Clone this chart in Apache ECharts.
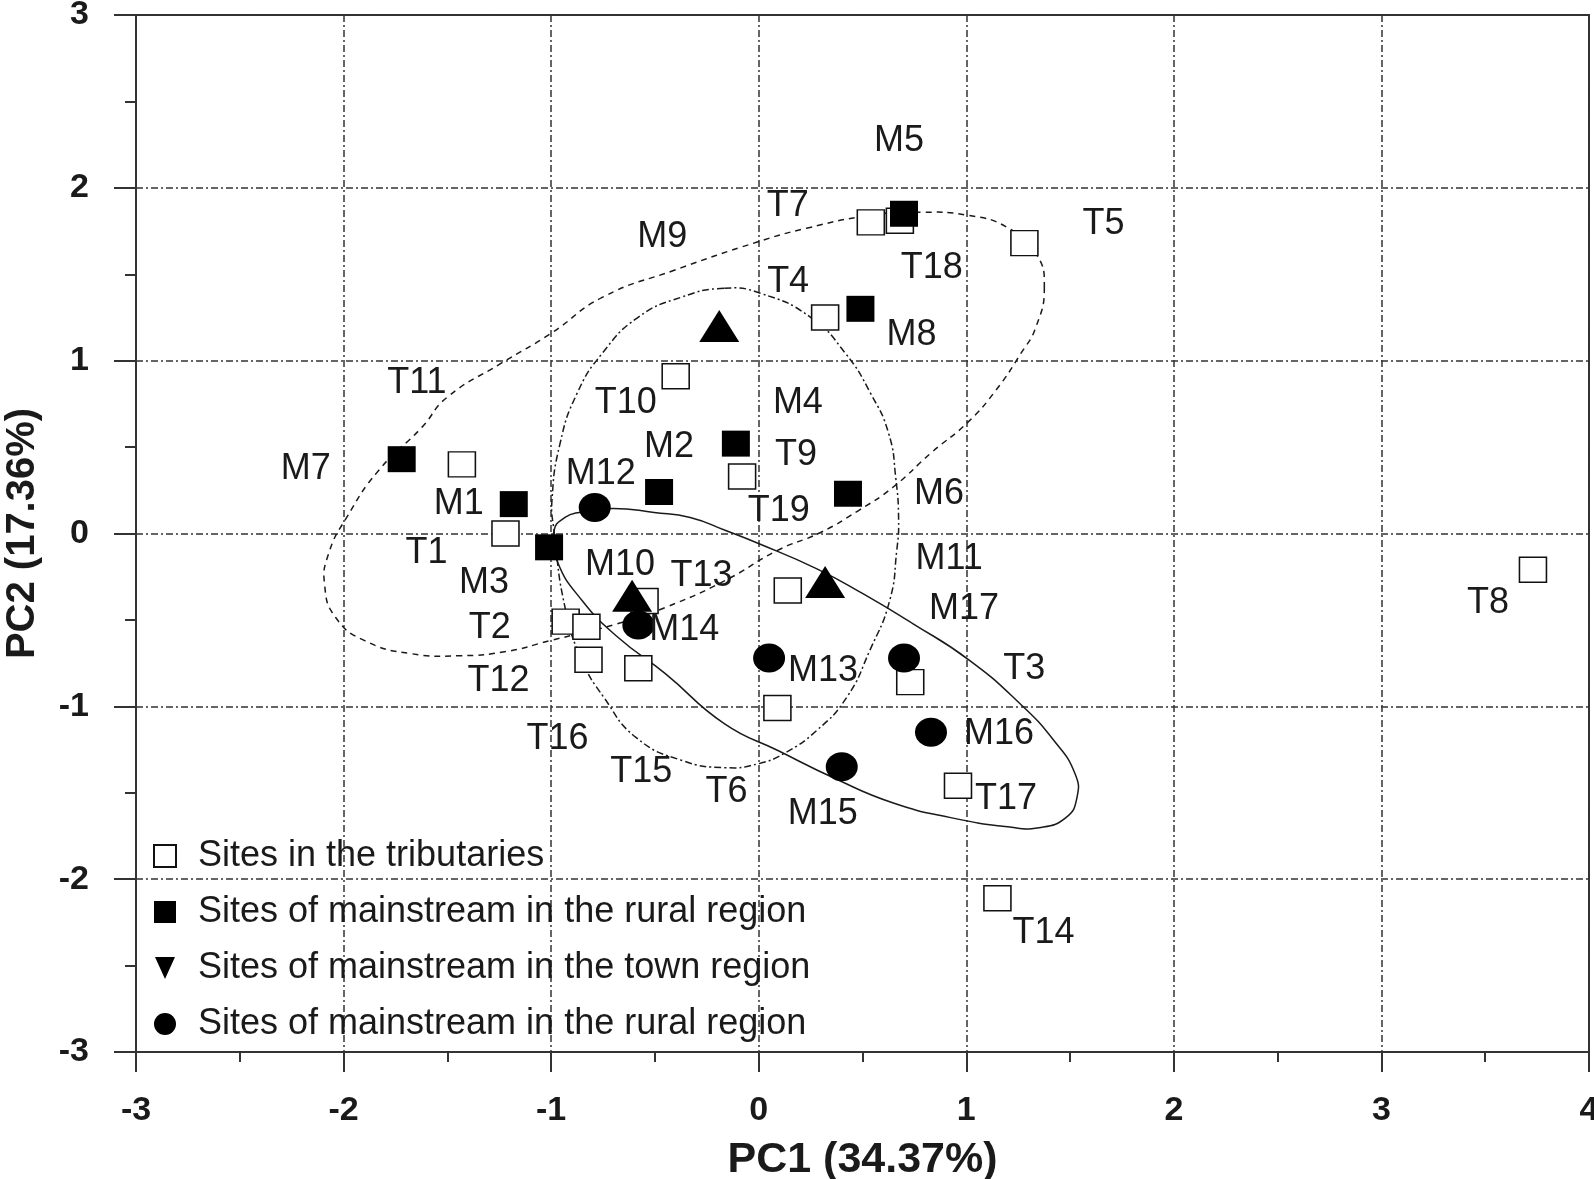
<!DOCTYPE html>
<html>
<head>
<meta charset="utf-8">
<title>PCA of sampling sites</title>
<script src="https://cdn.jsdelivr.net/npm/echarts/dist/echarts.min.js"></script>
<style>
  html, body { margin: 0; padding: 0; background: #fff; }
  #chart { width: 1594px; height: 1179px; }
</style>
</head>
<body>
<div id="chart"></div>
<script>
// axis ticks
var pc1Ticks = [-3, -2, -1, 0, 1, 2, 3, 4];
var pc2Ticks = [-3, -2, -1, 0, 1, 2, 3];

// sites in the tributaries (open squares)
var tribNames = ['T1','T2','T3','T4','T5','T6','T7','T8','T9','T10','T11','T12','T13','T14','T15','T16','T17','T18','T19'];
var tribPC1 = [-1.22, -0.93, 0.73, 0.32, 1.28, 0.09, 0.54, 3.73, -0.08, -0.40, -1.43, -0.83, -0.55, 1.15, -0.58, -0.82, 0.96, 0.68, 0.14];
var tribPC2 = [0.00, -0.51, -0.86, 1.25, 1.68, -1.01, 1.80, -0.21, 0.33, 0.91, 0.40, -0.54, -0.39, -2.11, -0.78, -0.73, -1.46, 1.81, -0.33];

// mainstream, rural region (filled squares)
var ruralNames = ['M1','M2','M3','M4','M5','M6','M7','M8'];
var ruralPC1 = [-1.18, -0.48, -1.01, -0.11, 0.70, 0.43, -1.72, 0.49];
var ruralPC2 = [0.17, 0.24, -0.08, 0.52, 1.85, 0.23, 0.43, 1.30];

// mainstream, town region (triangles)
var townNames = ['M9','M10','M11'];
var townPC1 = [-0.19, -0.61, 0.32];
var townPC2 = [1.20, -0.36, -0.28];

// mainstream, rural region (circles)
var circNames = ['M12','M13','M14','M15','M16','M17'];
var circPC1 = [-0.79, 0.05, -0.58, 0.40, 0.83, 0.70];
var circPC2 = [0.15, -0.72, -0.53, -1.35, -1.15, -0.72];

// group outlines, points
var ellRuralPC1 = [1.376, 1.335, 1.263, 1.142, 1.007, 0.833, 0.645, 0.481, 0.298, 0.090, -0.161, -0.450, -0.677, -1.005, -1.218, -1.435, -1.676, -1.898, -2.038, -2.091, -2.072, -1.985, -1.831, -1.623, -1.502, -1.242, -1.000, -0.754, -0.407, -0.011, 0.230, 0.539, 0.780, 1.007, 1.196, 1.335];
var ellRuralPC2 = [1.426, 1.193, 1.042, 0.828, 0.643, 0.469, 0.266, 0.133, 0.006, -0.098, -0.272, -0.428, -0.521, -0.620, -0.683, -0.707, -0.695, -0.620, -0.486, -0.301, -0.116, 0.093, 0.365, 0.614, 0.787, 0.984, 1.158, 1.366, 1.523, 1.685, 1.766, 1.841, 1.859, 1.841, 1.772, 1.621];

var ellTownPC1 = [-0.166, 0.008, 0.250, 0.418, 0.539, 0.626, 0.660, 0.674, 0.665, 0.631, 0.535, 0.423, 0.278, 0.129, -0.001, -0.161, -0.368, -0.590, -0.745, -0.851, -0.933, -0.986, -0.996, -0.957, -0.875, -0.754, -0.581, -0.373];
var ellTownPC2 = [1.419, 1.390, 1.251, 1.042, 0.811, 0.579, 0.324, 0.075, -0.098, -0.388, -0.677, -0.950, -1.141, -1.268, -1.332, -1.355, -1.314, -1.181, -0.950, -0.735, -0.428, 0.017, 0.191, 0.521, 0.811, 1.042, 1.251, 1.367];

var ellCircPC1 = [-0.986, -0.933, -0.865, -0.701, -0.504, -0.330, -0.159, -0.001, 0.278, 0.500, 0.742, 1.017, 1.258, 1.422, 1.524, 1.533, 1.480, 1.350, 1.200, 0.925, 0.645, 0.370, 0.095, -0.166, -0.450, -0.677, -0.851, -0.972];
var ellCircPC2 = [0.017, 0.093, 0.122, 0.145, 0.122, 0.093, 0.017, -0.058, -0.203, -0.347, -0.521, -0.735, -0.984, -1.198, -1.390, -1.529, -1.644, -1.702, -1.697, -1.644, -1.558, -1.419, -1.257, -1.100, -0.811, -0.602, -0.388, -0.156];

var legendText = {
  trib: 'Sites in the tributaries',
  rural: 'Sites of mainstream in the rural region',
  town: 'Sites of mainstream in the town region',
  circ: 'Sites of mainstream in the rural region'
};

// where each site label sits, px from its marker
var labelOffsets = {
  T1: [-79, 20], T2: [-76, 6], T3: [114, -13], T4: [-37, -35], T5: [79, -19],
  T6: [-51, 84], T7: [-83, -16], T8: [-45, 33], T9: [54, -21], T10: [-50, 27],
  T11: [-45, -81], T12: [-88, 54], T13: [57, -25], T14: [46, 35], T15: [3, 104],
  T16: [-31, 79], T17: [48, 13], T18: [32, 47], T19: [-9, -79],
  M1: [-55, 0], M2: [10, -45], M3: [-65, 36], M4: [62, -41], M5: [-5, -73],
  M6: [91, 0], M7: [-96, 10], M8: [51, 26], M9: [-57, -89], M10: [-12, -31],
  M11: [124, -23], M12: [6, -33], M13: [54, 13], M14: [46, 5], M15: [-19, 47],
  M16: [68, 2], M17: [60, -49]
};

var font = "'Liberation Sans', Arial, sans-serif";
var ink = '#1a1a1a';

var outlines = [
  { pc1: ellRuralPC1, pc2: ellRuralPC2, dash: [6, 5] },
  { pc1: ellTownPC1, pc2: ellTownPC2, dash: [7, 3, 2, 3] },
  { pc1: ellCircPC1, pc2: ellCircPC2, dash: null }
];

function sites(names, xs, ys) {
  return names.map(function (n, i) {
    return { name: n, value: [xs[i], ys[i]], label: { offset: labelOffsets[n] } };
  });
}

var siteLabel = {
  show: true,
  position: 'inside',
  formatter: '{b}',
  fontSize: 36,
  fontFamily: font,
  color: ink
};

var chart = echarts.init(document.getElementById('chart'));

chart.setOption({
  animation: false,
  backgroundColor: '#fff',
  grid: {
    left: 136,
    right: 5,
    top: 15,
    bottom: 127,
    containLabel: false,
    outerBoundsMode: 'none',
    show: true,
    borderColor: '#333',
    borderWidth: 2
  },
  legend: {
    orient: 'vertical',
    left: 148,
    top: 833,
    itemWidth: 22,
    itemHeight: 22,
    itemGap: 20,
    selectedMode: false,
    data: [
      { name: 'trib', icon: 'rect' },
      { name: 'rural', icon: 'rect' },
      { name: 'town', icon: 'path://M0,0L10,0L5,11Z' },
      { name: 'circ', icon: 'circle' }
    ],
    formatter: function (n) { return legendText[n]; },
    textStyle: {
      fontSize: 36,
      lineHeight: 36,
      fontFamily: font,
      color: ink,
      padding: [0, 0, 0, 17]
    }
  },
  xAxis: {
    type: 'value',
    min: pc1Ticks[0],
    max: pc1Ticks[pc1Ticks.length - 1],
    interval: 1,
    name: 'PC1 (34.37%)',
    nameLocation: 'middle',
    nameGap: 87,
    nameTextStyle: { fontSize: 43, fontWeight: 'bold', fontFamily: font, color: ink },
    axisLine: { show: true, onZero: false, lineStyle: { color: '#333', width: 2 } },
    axisTick: { show: true, inside: false, length: 20, lineStyle: { color: '#333', width: 2 } },
    minorTick: { show: true, splitNumber: 2, length: 10, lineStyle: { color: '#333', width: 2 } },
    axisLabel: { fontSize: 34, fontWeight: 'bold', fontFamily: font, color: ink, margin: 42 },
    splitLine: { show: true, lineStyle: { color: '#333', width: 1.5, type: [7, 3, 2, 3] } }
  },
  yAxis: {
    type: 'value',
    min: pc2Ticks[0],
    max: pc2Ticks[pc2Ticks.length - 1],
    interval: 1,
    name: 'PC2 (17.36%)',
    nameLocation: 'middle',
    nameGap: 93,
    nameTextStyle: { fontSize: 40, fontWeight: 'bold', fontFamily: font, color: ink },
    axisLine: { show: true, onZero: false, lineStyle: { color: '#333', width: 2 } },
    axisTick: { show: true, inside: false, length: 22, lineStyle: { color: '#333', width: 2 } },
    minorTick: { show: true, splitNumber: 2, length: 11, lineStyle: { color: '#333', width: 2 } },
    axisLabel: { fontSize: 34, fontWeight: 'bold', fontFamily: font, color: ink, margin: 47 },
    splitLine: { show: true, lineStyle: { color: '#333', width: 1.5, type: [7, 3, 2, 3] } }
  },
  series: [
    {
      name: 'trib',
      type: 'scatter',
      symbol: 'rect',
      symbolSize: [27, 25],
      itemStyle: { color: '#fff', borderColor: '#111', borderWidth: 1.5, opacity: 1 },
      label: siteLabel,
      data: sites(tribNames, tribPC1, tribPC2)
    },
    {
      name: 'rural',
      type: 'scatter',
      symbol: 'rect',
      symbolSize: [28, 26],
      itemStyle: { color: '#000', opacity: 1 },
      label: siteLabel,
      data: sites(ruralNames, ruralPC1, ruralPC2)
    },
    {
      name: 'town',
      type: 'scatter',
      symbol: 'triangle',
      symbolSize: [40, 32],
      itemStyle: { color: '#000', opacity: 1 },
      label: siteLabel,
      data: sites(townNames, townPC1, townPC2)
    },
    {
      name: 'circ',
      type: 'scatter',
      symbol: 'circle',
      symbolSize: [32, 29],
      itemStyle: { color: '#000', opacity: 1 },
      label: siteLabel,
      data: sites(circNames, circPC1, circPC2)
    },
    {
      // the three group outlines, closed smooth loops through the read points
      name: 'outlines',
      type: 'custom',
      silent: true,
      data: outlines.map(function (o) { return [o.pc1[0], o.pc2[0]]; }),
      renderItem: function (params, api) {
        var o = outlines[params.dataIndex];
        var pts = o.pc1.map(function (x, i) { return api.coord([x, o.pc2[i]]); });
        return {
          type: 'polygon',
          shape: { points: pts, smooth: 0.5 },
          style: { fill: 'none', stroke: '#1a1a1a', lineWidth: 1.5, lineDash: o.dash }
        };
      }
    }
  ]
});

window.addEventListener('resize', function () {
  chart.resize();
});
</script>
</body>
</html>
